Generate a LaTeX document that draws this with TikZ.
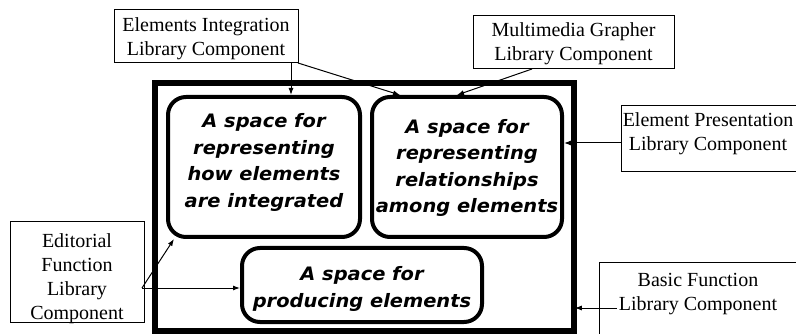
\documentclass[tikz,border=0pt]{standalone}
\usepackage{fontspec}
\setmainfont{Liberation Serif}
\newfontfamily\spacefont{DejaVu Sans}[FakeStretch=1.05]
\usetikzlibrary{arrows.meta,calc}
\tikzset{
  libbox/.style={draw=black, line width=1pt, inner sep=0pt, outer sep=0pt},
  libtext/.style={align=center, inner sep=0pt, font=\fontsize{20}{24}\selectfont},
  spacebox/.style={draw=black, line width=4pt, rounded corners=18pt, inner sep=0pt},
  spacetext/.style={align=center, inner sep=0pt,
    font=\spacefont\bfseries\itshape\fontsize{18.5}{26.5}\selectfont},
  framebox/.style={draw=black, line width=5.5pt, inner sep=0pt},
  arr/.style={line width=1pt, -{Latex[length=7pt,width=5pt]}},
}
\begin{document}
\begin{tikzpicture}[x=1pt,y=-1pt]
\useasboundingbox (0,0) rectangle (796,334);
\clip (0,0) rectangle (796,334);
% main frame
\node[framebox, minimum width=419pt, minimum height=248pt] (frame) at (364.5,207) {};
% spaces
\node[spacebox, minimum width=192pt, minimum height=140pt] (box1) at (264,167) {};
\node[spacetext] (t1) at (264,162.5) {A space for\\representing\\how elements\\are integrated};
\node[spacebox, minimum width=190pt, minimum height=140pt] (box2) at (467,167) {};
\node[spacetext] (t2) at (467,168) {A space for\\representing\\relationships\\among elements};
\node[spacebox, minimum width=240pt, minimum height=74pt] (box3) at (362,285) {};
\node[spacetext] (t3) at (362,289) {A space for\\producing elements};
% library components
\node[libbox, minimum width=184pt, minimum height=53pt] (eibox) at (206,36.5) {};
\node[libtext] (ei) at (206,39) {Elements Integration\\Library Component};
\node[libbox, minimum width=201pt, minimum height=53pt] (mgbox) at (573.5,42.5) {};
\node[libtext] (mg) at (573.5,44) {Multimedia Grapher\\Library Component};
\node[libbox, minimum width=176pt, minimum height=66pt] (epbox) at (709,139) {};
\node[libtext] (ep) at (708,134) {Element Presentation\\Library Component};
\node[libbox, minimum width=198pt, minimum height=84pt] (bfbox) at (698,304) {};
\node[libtext] (bf) at (698,294) {Basic Function\\Library Component};
\node[libbox, minimum width=134pt, minimum height=100pt] (edbox) at (77,272) {};
\node[libtext] (ed) at (77,279) {Editorial\\Function\\Library\\Component};
% connectors
\draw[arr] ([xshift=85pt]eibox.south) -- ([xshift=85pt]eibox.south |- box1.north);
\draw[arr] (eibox.south east) -- ([xshift=-67pt]box2.north);
\draw[arr] ([xshift=-41.5pt]mgbox.south) -- ([xshift=-10pt]box2.north);
\draw[arr] ([yshift=-4pt]epbox.west) -- ([yshift=-4pt]epbox.west -| box2.east);
\draw[arr] ([xshift=-2pt,yshift=-14pt]bf.west) -- ([xshift=-2pt,yshift=-14pt]bf.west -| frame.east);
\coordinate (edp) at ([xshift=-2pt,yshift=-16pt]edbox.east);
\draw[arr] (edp) -- (edp -| box3.west);
\draw[arr] (edp) -- ([xshift=8pt,yshift=0pt]box1.south west);
\end{tikzpicture}
\end{document}
